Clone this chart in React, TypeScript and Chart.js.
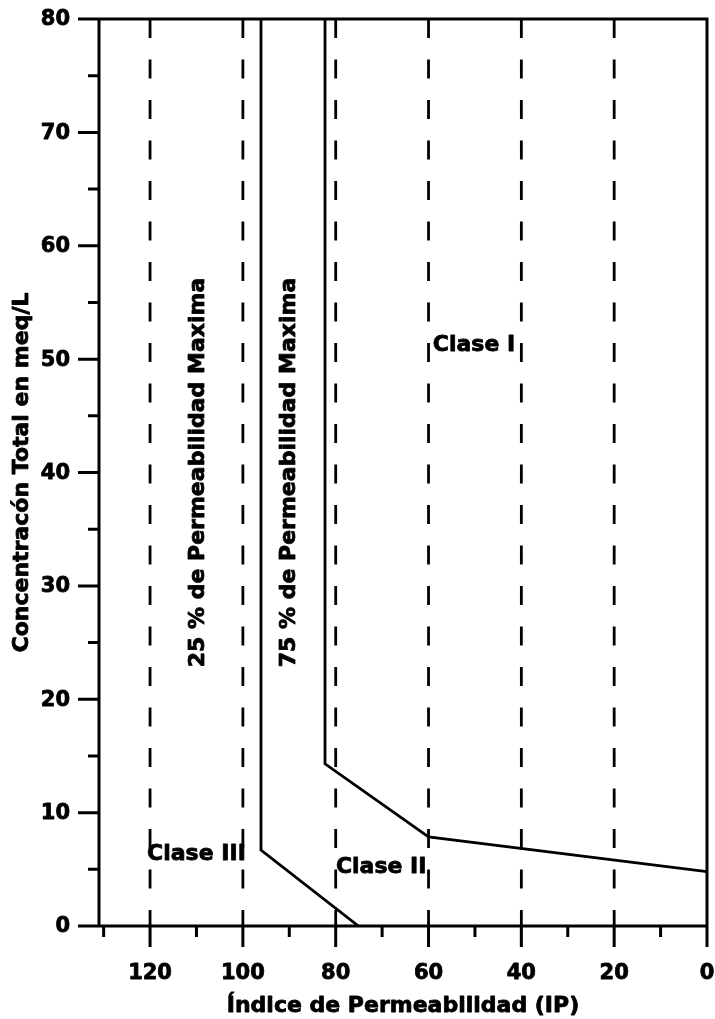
import React, { useEffect, useRef } from "react";
import { Chart, registerables } from "chart.js";
Chart.register(...registerables);

// Boundary lines (Doneen permeability index diagram)
const line25X = [96.1, 96.1, 75.1];
const line25Y = [80, 6.7, 0];
const line75X = [82.3, 82.3, 60, 0];
const line75Y = [80, 14.3, 7.85, 4.8];

// Dashed reference verticals
const gridX = [120, 100, 80, 60, 40, 20];

// Axis ticks
const xMajorTicks = [120, 100, 80, 60, 40, 20, 0];
const xMinorTicks = [130, 110, 90, 70, 50, 30, 10];
const yMajorTicks = [0, 10, 20, 30, 40, 50, 60, 70, 80];
const yMinorTicks = [5, 15, 25, 35, 45, 55, 65, 75];

// Annotations
const classLabels = ["Clase I", "Clase II", "Clase III"];
const classX = [50.2, 70.2, 110];
const classY = [51.2, 5.2, 6.3];
const rotLabels = ["25 % de Permeabilidad Maxima", "75 % de Permeabilidad Maxima"];
const rotX = [109.7, 90.1];
const rotY = [40, 40];

const xTitle = "Índice de Permeabilidad (IP)";
const yTitle = "Concentracón Total en meq/L";

const X_MIN = 0;
const X_MAX = 131;
const Y_MIN = 0;
const Y_MAX = 80;

const FONT = '"DejaVu Sans", "Liberation Sans", Arial, sans-serif';

const toPoints = (xs: number[], ys: number[]) => xs.map((x, i) => ({ x, y: ys[i] }));

const boldText = (ctx: CanvasRenderingContext2D, t: string, x: number, y: number) => {
  ctx.strokeText(t, x, y);
  ctx.fillText(t, x, y);
};

const framePlugin = {
  id: "framePlugin",
  afterDraw(chart: any) {
    const { ctx, chartArea, scales } = chart;
    const xs = scales.x;
    const ys = scales.y;
    const { left, right, top, bottom } = chartArea;
    ctx.save();
    ctx.strokeStyle = "#000";
    ctx.lineWidth = 3;
    ctx.lineCap = "butt";
    ctx.beginPath();
    // frame
    ctx.moveTo(left, bottom + 1.5);
    ctx.lineTo(left, top);
    ctx.moveTo(left - 21, top);
    ctx.lineTo(right, top);
    ctx.lineTo(right, bottom + 21);
    ctx.moveTo(left - 21, bottom);
    ctx.lineTo(right, bottom);
    // y ticks
    yMajorTicks.forEach((v) => {
      const py = ys.getPixelForValue(v);
      ctx.moveTo(left - 21, py);
      ctx.lineTo(left, py);
    });
    yMinorTicks.forEach((v) => {
      const py = ys.getPixelForValue(v);
      ctx.moveTo(left - 11, py);
      ctx.lineTo(left, py);
    });
    // x ticks
    xMajorTicks.forEach((v) => {
      const px = xs.getPixelForValue(v);
      ctx.moveTo(px, bottom);
      ctx.lineTo(px, bottom + 21);
    });
    xMinorTicks.forEach((v) => {
      const px = xs.getPixelForValue(v);
      ctx.moveTo(px, bottom);
      ctx.lineTo(px, bottom + 11);
    });
    ctx.stroke();

    ctx.fillStyle = "#000";
    ctx.lineWidth = 0.8;
    ctx.lineJoin = "round";
    // tick labels
    ctx.font = `bold 21px ${FONT}`;
    ctx.textBaseline = "middle";
    ctx.textAlign = "center";
    xMajorTicks.forEach((v) => {
      boldText(ctx, String(v), xs.getPixelForValue(v), bottom + 48);
    });
    ctx.textAlign = "right";
    yMajorTicks.forEach((v) => {
      boldText(ctx, String(v), left - 29, ys.getPixelForValue(v) + 1);
    });

    // axis titles
    ctx.font = `bold 22px ${FONT}`;
    ctx.textAlign = "center";
    boldText(ctx, xTitle, (left + right) / 2, bottom + 80);
    ctx.save();
    ctx.translate(22, (top + bottom) / 2);
    ctx.rotate(-Math.PI / 2);
    boldText(ctx, yTitle, 0, 0);
    ctx.restore();

    // class labels
    classLabels.forEach((t, i) => {
      boldText(ctx, t, xs.getPixelForValue(classX[i]), ys.getPixelForValue(classY[i]));
    });
    // rotated labels
    rotLabels.forEach((t, i) => {
      ctx.save();
      ctx.translate(xs.getPixelForValue(rotX[i]), ys.getPixelForValue(rotY[i]));
      ctx.rotate(-Math.PI / 2);
      boldText(ctx, t, 0, 0);
      ctx.restore();
    });
    ctx.restore();
  },
};

export default function App() {
  const ref = useRef<HTMLCanvasElement | null>(null);
  useEffect(() => {
    document.body.style.margin = "0";
    const canvas = ref.current;
    if (!canvas) return;
    const datasets: any[] = [];
    gridX.forEach((g) => {
      datasets.push({
        data: toPoints([g, g], [Y_MAX, Y_MIN]),
        borderColor: "#000",
        borderWidth: 2.8,
        borderDash: [19, 21.5],
        pointRadius: 0,
        fill: false,
      });
    });
    datasets.push({
      data: toPoints(line25X, line25Y),
      borderColor: "#000",
      borderWidth: 2.8,
      pointRadius: 0,
      fill: false,
    });
    datasets.push({
      data: toPoints(line75X, line75Y),
      borderColor: "#000",
      borderWidth: 2.8,
      pointRadius: 0,
      fill: false,
    });
    const chart = new Chart(canvas, {
      type: "line",
      data: { datasets },
      options: {
        animation: false,
        responsive: false,
        devicePixelRatio: 1,
        layout: { padding: { left: 99, right: 8, top: 19, bottom: 93 } },
        plugins: { legend: { display: false }, tooltip: { enabled: false } },
        events: [],
        scales: {
          x: { type: "linear", min: X_MIN, max: X_MAX, reverse: true, display: false },
          y: { type: "linear", min: Y_MIN, max: Y_MAX, display: false },
        },
      },
      plugins: [framePlugin],
    } as any);
    return () => chart.destroy();
  }, []);
  return (
    <div style={{ width: 715, height: 1019, background: "#fff" }}>
      <canvas ref={ref} width={715} height={1019} style={{ display: "block" }} />
    </div>
  );
}
